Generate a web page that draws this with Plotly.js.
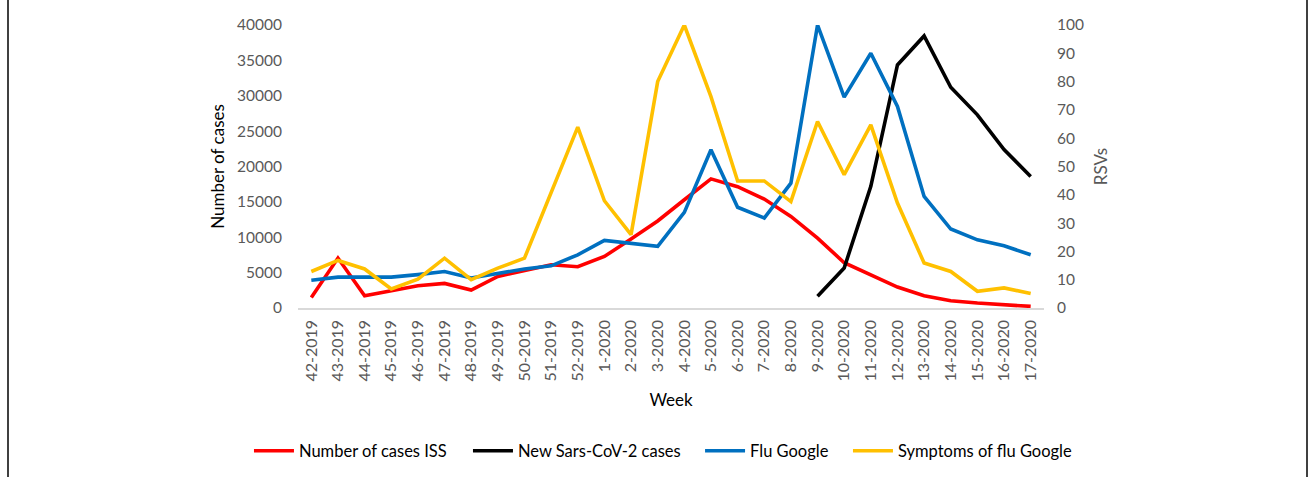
<!DOCTYPE html>
<html>
<head>
<meta charset="utf-8">
<script src="https://cdn.plot.ly/plotly-3.0.1.min.js"></script>
<style>
  html, body { margin: 0; padding: 0; background: #ffffff; }
  #wrap { position: relative; width: 1309px; height: 477px; overflow: hidden; }
  #chart { position: absolute; left: 0; top: 0; width: 1309px; height: 477px; }
  .frame { position: absolute; top: 0; width: 2px; height: 477px; background: #404040; }
</style>
</head>
<body>
<div id="wrap">
  <div id="chart"></div>
  <div class="frame" style="left:7px;"></div>
  <div class="frame" style="left:1306px;"></div>
</div>
<script>
const weeks = ["42-2019","43-2019","44-2019","45-2019","46-2019","47-2019","48-2019","49-2019","50-2019","51-2019","52-2019",
  "1-2020","2-2020","3-2020","4-2020","5-2020","6-2020","7-2020","8-2020","9-2020","10-2020","11-2020","12-2020","13-2020","14-2020","15-2020","16-2020","17-2020"];

const casesISS = [1500, 7060, 1740, 2440, 3150, 3480, 2540, 4460, 5270, 6110, 5830,
  7290, 9740, 12300, 15300, 18250, 17150, 15400, 12950, 9880, 6400, 4700, 2960, 1740, 1030, 700, 470, 230];

const sarsCov2 = [null, null, null, null, null, null, null, null, null, null, null,
  null, null, null, null, null, null, null, null, 1650, 5650, 17200, 34350, 38450, 31200, 27300, 22400, 18600];

const fluGoogle = [9.8, 10.9, 10.9, 10.9, 11.8, 12.9, 10.6, 12.1, 13.8, 14.9, 18.8,
  23.9, 22.9, 21.8, 33.8, 55.9, 35.6, 31.8, 44.1, 100, 74.5, 90, 71.2, 39.4, 27.9, 24.1, 22, 18.8];

const symptomsFluGoogle = [12.9, 16.8, 13.8, 6.7, 10.2, 17.6, 10, 14.1, 17.6, 40.6, 63.9,
  37.9, 25.9, 80, 100, 74.7, 44.9, 44.9, 37.6, 65.9, 47.1, 64.7, 37.1, 15.9, 12.9, 5.9, 7.1, 5.1];

const FONT = "Lato, 'Open Sans', 'DejaVu Sans', sans-serif";
const LW = 3.6;

const traces = [
  { x: weeks, y: casesISS, name: "Number of cases ISS", type: "scatter", mode: "lines",
    line: { color: "#FF0000", width: LW }, yaxis: "y", legend: "legend" },
  { x: weeks, y: sarsCov2, name: "New Sars-CoV-2 cases", type: "scatter", mode: "lines",
    line: { color: "#000000", width: LW }, yaxis: "y", connectgaps: false, legend: "legend2" },
  { x: weeks, y: fluGoogle, name: "Flu Google", type: "scatter", mode: "lines",
    line: { color: "#0070C0", width: LW }, yaxis: "y2", legend: "legend3" },
  { x: weeks, y: symptomsFluGoogle, name: "Symptoms of flu Google", type: "scatter", mode: "lines",
    line: { color: "#FFC000", width: LW }, yaxis: "y2", legend: "legend4" }
];

function leg(xc) {
  return {
    orientation: "h", xref: "container", yref: "container",
    x: xc, xanchor: "left", y: 0.0545, yanchor: "middle",
    font: { family: FONT, size: 16.5, color: "#000000" },
    itemwidth: 40, bgcolor: "rgba(0,0,0,0)"
  };
}

const layout = {
  width: 1309, height: 477,
  margin: { l: 298, r: 265, t: 25, b: 169 },
  paper_bgcolor: "#ffffff", plot_bgcolor: "#ffffff",
  font: { family: FONT, color: "#595959", size: 15.5 },
  showlegend: true,
  legend: leg(0.1902),
  legend2: leg(0.3575),
  legend3: leg(0.5348),
  legend4: leg(0.6478),
  xaxis: {
    type: "category", range: [-0.5, 27.5],
    tickangle: -90, tickfont: { family: FONT, size: 16, color: "#595959" },
    ticklabelstandoff: 4,
    showgrid: false, zeroline: false,
    showline: true, linecolor: "#d9d9d9", linewidth: 1.5,
    ticks: "",
    title: { text: "Week", font: { family: FONT, size: 17, color: "#000000" }, standoff: 13 }
  },
  yaxis: {
    range: [0, 40000], dtick: 5000, tick0: 0,
    showgrid: false, zeroline: false, showline: false, ticks: "",
    tickformat: "d", ticklabelstandoff: 15,
    tickfont: { family: FONT, size: 15.5, color: "#595959" },
    title: { text: "Number of cases", font: { family: FONT, size: 17, color: "#000000" }, standoff: 8 }
  },
  yaxis2: {
    range: [0, 100], dtick: 10, tick0: 0,
    overlaying: "y", side: "right",
    showgrid: false, zeroline: false, showline: false, ticks: "",
    ticklabelstandoff: 12,
    tickfont: { family: FONT, size: 15.5, color: "#595959" },
    title: { text: "RSVs", font: { family: FONT, size: 17, color: "#595959" }, standoff: 12 }
  }
};

Plotly.newPlot("chart", traces, layout, { displayModeBar: false, staticPlot: true });
</script>
</body>
</html>
